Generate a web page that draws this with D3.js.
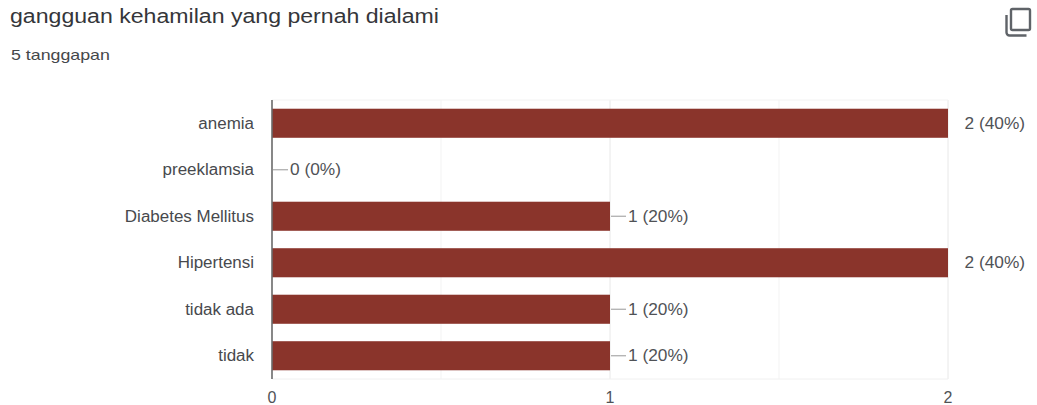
<!DOCTYPE html>
<html>
<head>
<meta charset="utf-8">
<script src="https://cdn.jsdelivr.net/npm/d3@7/dist/d3.min.js"></script>
<style>
html,body{margin:0;padding:0;background:#fff}
svg{display:block}
text{font-family:Arial,"Liberation Sans",sans-serif}
</style>
</head>
<body>
<svg id="chart" width="1037" height="405"></svg>
<script>
// Responses per answer option
const categories = ["anemia","preeklamsia","Diabetes Mellitus","Hipertensi","tidak ada","tidak"];
const counts = [2,0,1,2,1,1];
const percents = [40,0,20,40,20,20];
const xTicks = [0,1,2];
const xGrid = [0.5,1,1.5,2];
const titleText = "gangguan kehamilan yang pernah dialami";
const subtitleText = "5 tanggapan";

const svg = d3.select("#chart");
const plot = {left:272, right:948, top:100, bottom:379};

const x = d3.scaleLinear().domain([0,2]).range([plot.left,plot.right]);
const y = d3.scaleBand().domain(categories).range([plot.top,plot.bottom]).paddingInner(0.375).paddingOuter(0.1875);

// The lettering runs wide, so each text is widened by a set factor once measured
function widen(sel, factor){
  sel.each(function(){
    const w = this.getComputedTextLength();
    d3.select(this).attr("textLength", w*factor).attr("lengthAdjust","spacingAndGlyphs");
  });
  return sel;
}

svg.append("text").attr("x",10).attr("y",23)
  .attr("font-family","Roboto, sans-serif").attr("font-size",20).attr("fill","#35363a").text(titleText)
  .call(widen,1.155);
svg.append("text").attr("x",11).attr("y",60)
  .attr("font-family","Roboto, sans-serif").attr("font-size",15).attr("fill","#45474a").text(subtitleText)
  .call(widen,1.185);

// Copy icon, top right
const icon = svg.append("g").attr("fill","none").attr("stroke","#5f6368").attr("stroke-width",2.4);
icon.append("rect").attr("x",1011).attr("y",9).attr("width",19).attr("height",21).attr("rx",1.5);
icon.append("path").attr("d","M1006.5 15v17.5a3 3 0 0 0 3 3h17");

// Gridlines
svg.append("g").selectAll("line").data(xGrid).join("line")
  .attr("x1",d=>x(d)).attr("x2",d=>x(d)).attr("y1",plot.top).attr("y2",plot.bottom)
  .attr("stroke",d=>Number.isInteger(d)?"#e8e8e8":"#f3f3f3").attr("stroke-width",1);
svg.append("line").attr("x1",plot.left).attr("x2",plot.right).attr("y1",plot.top).attr("y2",plot.top).attr("stroke","#f3f3f3");
svg.append("line").attr("x1",plot.left).attr("x2",plot.right).attr("y1",plot.bottom).attr("y2",plot.bottom).attr("stroke","#f0f0f0");

// Bars
svg.append("g").selectAll("rect").data(categories).join("rect")
  .attr("x",x(0)).attr("y",d=>y(d))
  .attr("width",(d,i)=>x(counts[i])-x(0)).attr("height",y.bandwidth())
  .attr("fill","#8a342b");

// Baseline
svg.append("line").attr("x1",x(0)).attr("x2",x(0)).attr("y1",plot.top).attr("y2",plot.bottom)
  .attr("stroke","#6a6a6a").attr("stroke-width",1.6);

// Category labels
svg.append("g").selectAll("text").data(categories).join("text")
  .attr("y",d=>y(d)+y.bandwidth()/2+5.5)
  .attr("font-size",16).attr("fill","#47494d").text(d=>d)
  .each(function(){
    // right-aligned by hand because textLength changes the drawn width
    const w = this.getComputedTextLength()*1.06;
    d3.select(this).attr("x",254-w).attr("textLength",w).attr("lengthAdjust","spacingAndGlyphs");
  });

// Value labels; full bars sit clear of the label, shorter ones get a leader line
const full = d3.max(counts);
const labels = svg.append("g");
categories.forEach((c,i)=>{
  const cy = y(c)+y.bandwidth()/2;
  const end = x(counts[i]);
  if(counts[i] < full){
    labels.append("line").attr("x1",end+1).attr("x2",end+16).attr("y1",cy).attr("y2",cy)
      .attr("stroke","#a8a8a8").attr("stroke-width",1.2);
  }
  labels.append("text").attr("x",counts[i]<full?end+18:end+16.5).attr("y",cy+5.5)
    .attr("font-size",16).attr("fill","#505256").text(`${counts[i]} (${percents[i]}%)`)
    .call(widen,1.08);
});

// Value axis labels
svg.append("g").selectAll("text").data(xTicks).join("text")
  .attr("x",d=>x(d)).attr("y",402.5).attr("text-anchor","middle")
  .attr("font-size",16).attr("fill","#505256").text(d=>d);
</script>
</body>
</html>
